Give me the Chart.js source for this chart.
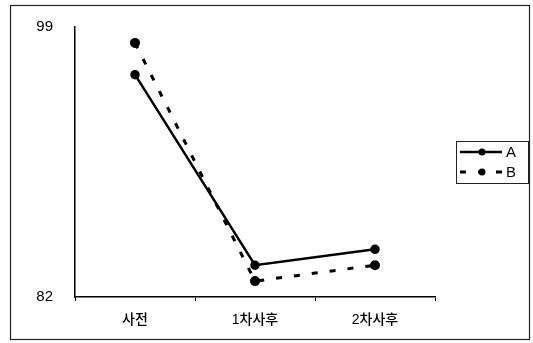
<!DOCTYPE html>
<html>
<head>
<meta charset="utf-8">
<script src="https://cdn.jsdelivr.net/npm/chart.js@4"></script>
<style>
  html, body { margin: 0; padding: 0; background: #fff; }
  #wrap { width: 533px; height: 343px; }
</style>
</head>
<body>
<div id="wrap"><canvas id="myChart" width="533" height="343"></canvas></div>
<script>
// data
const labels = ['사전', '1차사후', '2차사후'];
const seriesA = [96, 84, 85];
const seriesB = [98, 83, 84];
const yTicks = [82, 99];

const fontFam = '"Liberation Sans", "Noto Sans CJK KR", sans-serif';

// outer frame + hand drawn legend box (legend in the picture is boxed)
const framePlugin = {
    id: 'frame',
    afterDraw(chart) {
        const ctx = chart.ctx;
        ctx.save();
        ctx.strokeStyle = '#222';
        ctx.lineWidth = 1.2;
        ctx.strokeRect(10.5, 5.5, 519, 334);

        // legend
        const bx = 456, by = 141, bw = 72, bh = 42;
        ctx.lineWidth = 1;
        ctx.strokeRect(bx + 0.5, by + 0.5, bw, bh);
        chart.data.datasets.forEach((ds, i) => {
            const y = by + 11 + i * 20;
            ctx.strokeStyle = ds.borderColor;
            ctx.lineWidth = ds.borderWidth;
            ctx.setLineDash(ds.borderDash || []);
            ctx.beginPath();
            ctx.moveTo(bx + 4, y);
            ctx.lineTo(bx + 46, y);
            ctx.stroke();
            ctx.setLineDash([]);
            ctx.fillStyle = ds.pointBackgroundColor;
            ctx.beginPath();
            ctx.arc(bx + 26, y, 3.5, 0, Math.PI * 2);
            ctx.fill();
            ctx.fillStyle = '#000';
            ctx.font = '15px ' + fontFam;
            ctx.textBaseline = 'middle';
            ctx.fillText(ds.label, bx + 50, y + 1);
        });
        ctx.restore();
    }
};

const ctx = document.getElementById('myChart').getContext('2d');
const myChart = new Chart(ctx, {
    type: 'line',
    data: {
        labels: labels,
        datasets: [{
            label: 'A',
            data: seriesA,
            borderColor: '#000',
            borderWidth: 2.5,
            pointBackgroundColor: '#000',
            pointBorderColor: '#000',
            pointRadius: 3.5,
            tension: 0
        }, {
            label: 'B',
            data: seriesB,
            borderColor: '#000',
            borderWidth: 3,
            borderDash: [6, 12],
            pointBackgroundColor: '#000',
            pointBorderColor: '#000',
            pointRadius: 3.5,
            tension: 0
        }]
    },
    options: {
        responsive: false,
        animation: false,
        layout: { padding: { left: 10, right: 98, top: 27, bottom: 10 } },
        plugins: {
            legend: { display: false },
            tooltip: { enabled: false }
        },
        scales: {
            x: {
                offset: true,
                grid: {
                    offset: true,
                    drawOnChartArea: false,
                    color: '#000',
                    tickLength: 4
                },
                border: { color: '#000', width: 1.5 },
                ticks: {
                    color: '#000',
                    padding: 11,
                    font: { family: fontFam, size: 14, weight: '500' }
                },
                afterFit(scale) { scale.height = 36; }
            },
            y: {
                min: 82,
                max: 99,
                afterBuildTicks(scale) {
                    scale.ticks = yTicks.map(v => ({ value: v }));
                },
                grid: { display: false },
                border: { color: '#000', width: 1.5 },
                ticks: {
                    color: '#000',
                    padding: 14,
                    font: { family: fontFam, size: 15 }
                },
                afterFit(scale) { scale.width = 65; }
            }
        }
    },
    plugins: [framePlugin]
});
</script>
</body>
</html>
